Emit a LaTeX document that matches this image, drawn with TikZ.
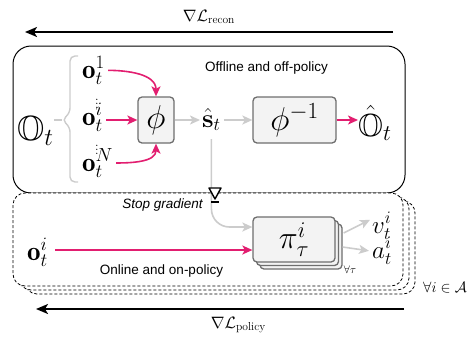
\RequirePackage{fix-cm}
\documentclass[tikz,border=0pt]{standalone}
\usepackage{fontspec}
\usepackage{amssymb}
\usepackage{bm}
\usetikzlibrary{arrows.meta,shadows,calc}
\newfontfamily\labelfont{Liberation Sans}
\definecolor{pinkline}{RGB}{226,30,112}
\definecolor{greyline}{RGB}{204,204,204}
\definecolor{boxfill}{RGB}{243,243,243}
\definecolor{boxline}{RGB}{110,110,110}

\tikzset{
  obs/.style={inner sep=0pt,anchor=base west,font=\fontsize{27}{32}\selectfont},
  fnbox/.style={draw=boxline,fill=boxfill,line width=1.3pt,rounded corners=4pt,
    font=\fontsize{33}{36}\selectfont},
  pinkarrow/.style={draw=pinkline,line width=1.6pt,-{Stealth[length=10pt,width=9pt,inset=2.5pt]}},
  greyarrow/.style={draw=greyline,line width=1.6pt,-{Stealth[length=10pt,width=9pt,inset=2.5pt]}},
  gradarrow/.style={line width=1.8pt,-{Stealth[length=12pt,width=10pt,inset=3pt]}},
  note/.style={font=\labelfont\fontsize{13.5}{16}\selectfont},
  frame/.style={dash pattern=on 3pt off 2pt,line width=0.8pt,fill=white,rounded corners=12pt}
}

\begin{document}
\begin{tikzpicture}[x=1pt,y=-1pt]
\useasboundingbox (0,0) rectangle (470,341);

% offline part and the stacked online parts
\draw[line width=1pt,rounded corners=18pt] (13,46) rectangle (405,193);
\foreach \s in {2,1,0}
  \draw[frame] (13+6*\s,193+4*\s) rectangle (403+6*\s,286+4*\s);

% gradients
\coordinate (rtop) at (393,32);
\coordinate (ltop) at (25,32);
\coordinate (rbot) at (404,309);
\coordinate (lbot) at (36,309);
\draw[gradarrow] (rtop) -- node[above=4pt,font=\fontsize{16.5}{18}\selectfont] {$\nabla\mathcal{L}_{\mathrm{recon}}$} (ltop);
\draw[gradarrow] (rbot) -- node[below=4pt,pos=0.45,font=\fontsize{16.5}{18}\selectfont] {$\nabla\mathcal{L}_{\mathrm{policy}}$} (lbot);

% observations
\node[inner sep=0pt,anchor=base west,font=\fontsize{35}{40}\selectfont] (Obs) at (17,140) {$\mathbb{O}_t$};
\node[obs] (o1) at (82,78)  {$\mathbf{o}_t^1$};
\node[obs] (oi) at (82,125) {$\mathbf{o}_t^i$};
\node[obs] (oN) at (82,171) {$\mathbf{o}_t^N$};
\node[inner sep=0pt,font=\fontsize{13}{13}\selectfont] (dots1) at (97,101) {$\vdots$};
\node[inner sep=0pt,font=\fontsize{13}{13}\selectfont] (dots2) at (97,147) {$\vdots$};

% brace
\coordinate (tip) at (62,120);
\draw[greyline,line width=1.4pt,rounded corners=5pt]
  (78,56) -- (70,56) -- (70,113) -- (tip) -- (70,127) -- (70,182) -- (78,182);
\draw[greyline,line width=1.4pt] (Obs.east |- tip) -- (tip);

% encoder and decoder
\node[fnbox,minimum width=36pt,minimum height=46pt] (phi) at (156,120) {$\phi$};
\node[fnbox,minimum width=83pt,minimum height=46pt] (phiinv) at (294.5,120) {$\phi^{-1}$};
\node[obs,font=\fontsize{26}{30}\selectfont] (shat) at (202,127) {$\bm{\hat{\mathbf{s}}}_t$};
\node[inner sep=0pt,anchor=base west,font=\fontsize{32}{36}\selectfont] (Ohat) at (358,136) {$\hat{\mathbb{O}}_t$};
\node[note] (offline) at (266.5,68) {Offline and off-policy};

\draw[pinkarrow,shorten <=3pt] (o1.east) to[out=0,in=90] (phi.north);
\draw[pinkarrow,shorten <=3pt] (oi.east |- phi.west) -- (phi.west);
\draw[pinkarrow,shorten <=3pt] (oN.east) to[out=0,in=-90] (phi.south);
\draw[greyarrow,shorten >=2pt] (phi.east) -- (phi.east -| shat.west);
\draw[greyarrow,shorten <=3pt] (shat.east |- phiinv.west) -- (phiinv.west);
\draw[pinkarrow] (phiinv.east) -- (Ohat.west |- phiinv.east);

% policies
\node[fnbox,minimum width=82pt,minimum height=45pt,font=\fontsize{32}{36}\selectfont,
  double copy shadow={shadow xshift=3.5pt,shadow yshift=-3.5pt}] (pi) at (294,239.5) {$\pi_\tau^i$};
\node[obs,font=\fontsize{25}{30}\selectfont] (v) at (372,233) {$v_t^i$};
\node[obs,font=\fontsize{25}{30}\selectfont] (a) at (372,258) {$a_t^i$};
\node[obs] (ob) at (27,260) {$\mathbf{o}_t^i$};
\node[font=\fontsize{11}{13}\selectfont] (alltau) at (350,270) {$\forall\tau$};
\node[font=\fontsize{15}{18}\selectfont] (alli) at (445,288) {$\forall i\in\mathcal{A}$};
\node[note] (online) at (161.5,271) {Online and on-policy};

\coordinate (pigrey) at ($(pi.west)+(0,-12.5)$);
\coordinate (pipink) at ($(pi.west)+(0,10.5)$);
\draw[greyarrow,rounded corners=18pt,shorten <=8pt] (shat.south) |- (pigrey);
\draw[pinkarrow,shorten <=7pt] (ob.east |- pipink) -- (pipink);
\draw[greyarrow] ($(pi.east)+(8,-6.5)$) -- ($(v.west)+(-2,-6)$);
\draw[greyarrow] ($(pi.east)+(7,7.5)$) -- ($(a.west)+(-3,0)$ |- {$(pi.east)+(7,7.5)$});

% stop gradient
\coordinate (sg) at (215,195);
\draw[line width=1.4pt,fill=white,line join=round] ($(sg)+(-6,-7)$) -- ($(sg)+(6,-7)$) -- ($(sg)+(0,4)$) -- cycle;
\draw[line width=1.4pt] ($(sg)+(-4,7)$) -- ($(sg)+(4,7)$);
\node[note,font=\labelfont\itshape\fontsize{13.5}{16}\selectfont] (stop) at (162.5,205) {Stop gradient};
\end{tikzpicture}
\end{document}
